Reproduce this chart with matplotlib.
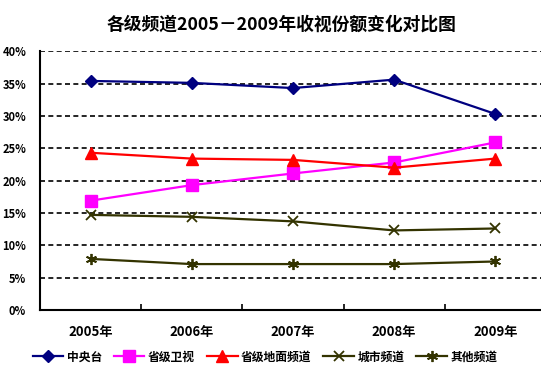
import matplotlib
matplotlib.use("Agg")
import matplotlib.pyplot as plt
from matplotlib.ticker import FixedLocator

plt.rcParams['font.family'] = ['Noto Sans CJK SC', 'DejaVu Sans']

years = ["2005年", "2006年", "2007年", "2008年", "2009年"]
series_names = ["中央台", "省级卫视", "省级地面频道", "城市频道", "其他频道"]
cctv = [35.4, 35.1, 34.3, 35.6, 30.3]
sat = [16.9, 19.3, 21.1, 22.8, 25.9]
ground = [24.3, 23.4, 23.2, 22.0, 23.4]
city = [14.7, 14.4, 13.7, 12.3, 12.6]
other = [7.9, 7.1, 7.1, 7.1, 7.5]
yticks = [0, 5, 10, 15, 20, 25, 30, 35, 40]

styles = [
    dict(color="#000080", marker="D", markersize=6),
    dict(color="#FF00FF", marker="s", markersize=8),
    dict(color="#FF0000", marker="^", markersize=8),
    dict(color="#333300", marker="x", markersize=7, markeredgewidth=1.3),
    dict(color="#333300", marker=(6, 2, 0), markersize=8, markeredgewidth=1.3),
]

fig = plt.figure(figsize=(5.41, 3.79), dpi=100)
ax = fig.add_axes([0.074, 0.182, 0.935, 0.683])

x = list(range(len(years)))
for name, vals, st in zip(series_names, [cctv, sat, ground, city, other], styles):
    ax.plot(x, vals, label=name, linewidth=1.6, **st)

ax.set_xlim(-0.5, 4.5)
ax.set_ylim(0, 40)
ax.set_yticks(yticks)
ax.set_yticklabels([f"{v}%" for v in yticks], fontsize=8, fontweight="bold")
ax.set_xticks(x)
ax.set_xticklabels(years, fontsize=9.5, fontweight="bold")
ax.xaxis.set_minor_locator(FixedLocator([0.5, 1.5, 2.5, 3.5]))
ax.tick_params(axis="x", which="major", length=0, pad=11)
ax.tick_params(axis="x", which="minor", length=4, width=1.2, direction="in")
ax.tick_params(axis="y", length=0, pad=10)

for v in yticks[1:]:
    ax.axhline(v, color="black", linestyle=(0, (3, 2)), linewidth=1.2, zorder=0)

for s in ["top", "right"]:
    ax.spines[s].set_visible(False)
ax.spines["left"].set_linewidth(1.5)
ax.spines["bottom"].set_linewidth(1.5)

fig.suptitle("各级频道2005－2009年收视份额变化对比图", x=0.52, y=0.96,
             fontsize=12.8, fontweight="bold")
fig.legend(loc="center", bbox_to_anchor=(0.49, 0.058), ncol=5, frameon=False,
           prop={"size": 8.5, "weight": "bold"}, handlelength=2.6, columnspacing=1.0,
           handletextpad=0.3)

fig.savefig("out.png", dpi=100)
